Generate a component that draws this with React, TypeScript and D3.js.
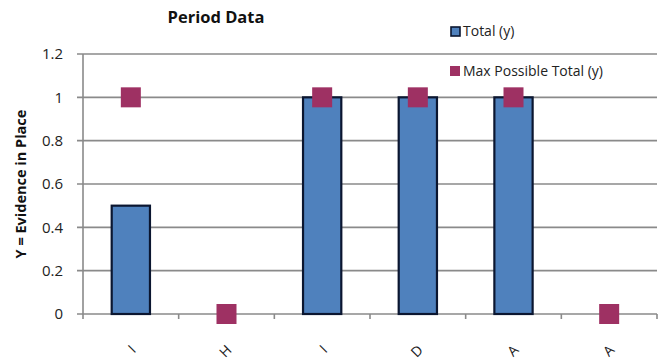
import React from "react";
import * as d3 from "d3";

const categories = ["I", "H", "I", "D", "A", "A"];
const totalValues = [0.5, 0, 1, 1, 1, 0];
const maxPossibleValues = [1, 0, 1, 1, 1, 0];
const yTicks = [0, 0.2, 0.4, 0.6, 0.8, 1, 1.2];

const W = 670;
const H = 361;
const margin = { left: 83, right: 13, top: 54, bottom: 47 };

export default function App() {
  const x = d3
    .scaleBand<number>()
    .domain(categories.map((_, i) => i))
    .range([margin.left, W - margin.right])
    .paddingInner(0)
    .paddingOuter(0);
  const y = d3.scaleLinear().domain([0, 1.2]).range([H - margin.bottom, margin.top]);
  const barW = x.bandwidth() * 0.4;
  const font = "'Open Sans', 'Liberation Sans', sans-serif";
  const grid = "#8a8a8a";
  const blue = "#4f81bd";
  const plum = "#9e3163";
  const mk = 20;

  return (
    <svg width={W} height={H} style={{ position: "absolute", left: 0, top: 0, background: "#fff" }} fontFamily={font}>
      <rect width={W} height={H} fill="#fff" />
      <text x={216} y={23} textAnchor="middle" fontSize={16.5} fontWeight="bold" fill="#111">
        Period Data
      </text>
      {/* gridlines and y ticks */}
      {yTicks.map((t) => (
        <g key={t}>
          <line x1={margin.left - 6} x2={W - margin.right} y1={y(t)} y2={y(t)} stroke={grid} strokeWidth={1.6} />
          <text x={63} y={y(t)} dy="0.36em" textAnchor="end" fontSize={15} fill="#222">
            {String(t)}
          </text>
        </g>
      ))}
      {/* y axis */}
      <line x1={margin.left} x2={margin.left} y1={y(1.2)} y2={y(0)} stroke={grid} strokeWidth={1.6} />
      {/* x ticks at category boundaries */}
      {categories.map((_, i) => (
        <line key={"t" + i} x1={x(i)!} x2={x(i)!} y1={y(0)} y2={y(0) + 5} stroke={grid} strokeWidth={1.6} />
      ))}
      <line x1={W - margin.right} x2={W - margin.right} y1={y(0)} y2={y(0) + 5} stroke={grid} strokeWidth={1.6} />
      {/* bars */}
      {totalValues.map((v, i) =>
        v > 0 ? (
          <rect
            key={"b" + i}
            x={x(i)! + x.bandwidth() / 2 - barW / 2}
            y={y(v)}
            width={barW}
            height={y(0) - y(v)}
            fill={blue}
            stroke="#0b1630"
            strokeWidth={2.2}
          />
        ) : null
      )}
      {/* max possible markers */}
      {maxPossibleValues.map((v, i) => (
        <rect
          key={"m" + i}
          x={x(i)! + x.bandwidth() / 2 - mk / 2}
          y={y(v) - mk / 2}
          width={mk}
          height={mk}
          fill={plum}
        />
      ))}
      {/* x labels */}
      {categories.map((c, i) => {
        const cx = x(i)! + x.bandwidth() / 2;
        return (
          <text
            key={"l" + i}
            transform={`translate(${cx + 6},${y(0) + 37}) rotate(-45)`}
            textAnchor="end"
            fontSize={14}
            fill="#222"
          >
            {c}
          </text>
        );
      })}
      {/* y axis title */}
      <text
        transform={`translate(26,${(y(0) + y(1.2)) / 2}) rotate(-90)`}
        textAnchor="middle"
        fontSize={14.5}
        fontWeight="bold"
        fill="#111"
      >
        Y = Evidence in Place
      </text>
      {/* legend */}
      <rect x={451} y={27} width={9} height={9} fill={blue} stroke="#0b1630" strokeWidth={1.6} />
      <text x={463} y={36} fontSize={14} fill="#222">
        Total (y)
      </text>
      <rect x={450} y={66} width={10} height={10} fill={plum} />
      <text x={463} y={76} fontSize={14} fill="#222">
        Max Possible Total (y)
      </text>
    </svg>
  );
}
